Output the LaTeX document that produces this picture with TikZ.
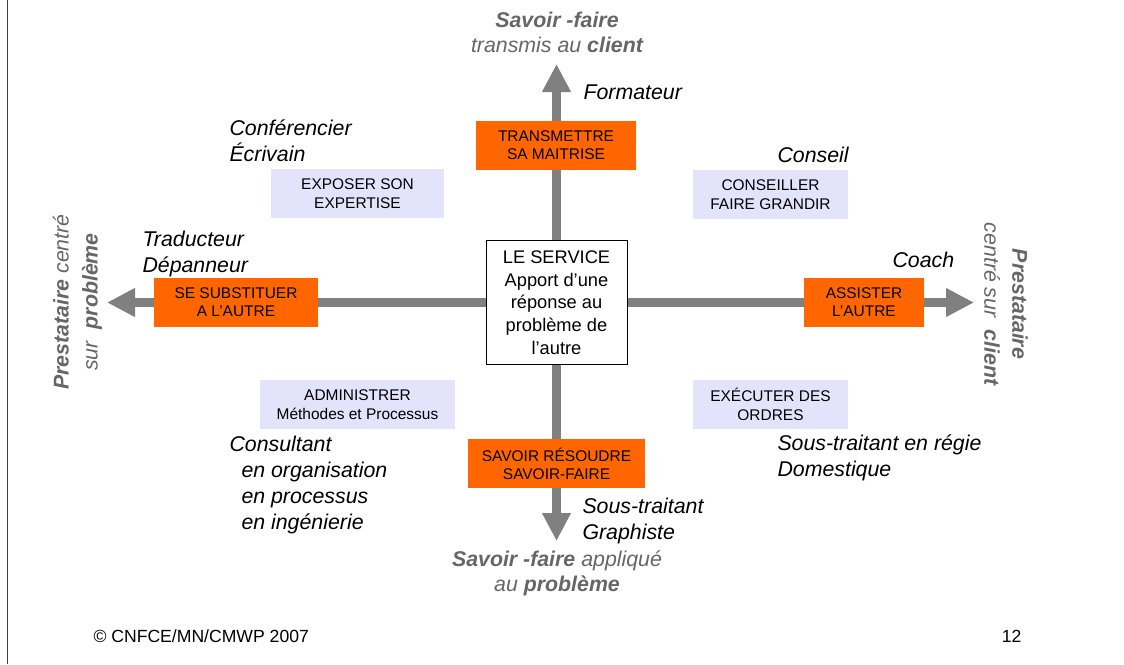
\documentclass[tikz,border=0pt]{standalone}
\usepackage{fontspec}
\setmainfont{Liberation Sans}
\usetikzlibrary{arrows.meta,backgrounds}

\definecolor{boxorange}{RGB}{255,102,0}
\definecolor{boxlilac}{RGB}{227,227,251}
\definecolor{axisgray}{RGB}{128,128,128}
\definecolor{polegray}{RGB}{102,102,102}
\definecolor{margingray}{RGB}{64,64,64}

\tikzset{every picture/.style={line width=0.75pt}}
\tikzset{
  axis/.style={draw=axisgray, line width=6.75pt, -{Triangle[length=21pt,width=20.25pt]}},
  actbox/.style={fill=boxorange, align=center, inner sep=0pt, minimum height=36.75pt, font=\fontsize{11.6}{13.5}\selectfont},
  rolebox/.style={fill=boxlilac, align=center, inner sep=0pt, minimum height=36.75pt, font=\fontsize{11.6}{14.5}\selectfont},
  job/.style={align=left, anchor=west, inner sep=0pt, font=\fontsize{16}{19.5}\selectfont\itshape},
  pole/.style={align=center, inner sep=0pt, text=polegray, font=\fontsize{16}{18.75}\selectfont\itshape},
}

\begin{document}
\begin{tikzpicture}[x=0.75pt,y=0.75pt,yscale=-1,xscale=1]
	\useasboundingbox (0,0) rectangle (1124,664);

	%Straight Lines [id:margin]
	\draw [color=margingray] (7,0) -- (7,664) ;

	%Shape: Rectangle [id:service]
	\node [draw, fill=white, align=center, inner sep=0pt, minimum width=105.75pt, minimum height=93pt, font=\fontsize{13.7}{17}\selectfont] (serv) at (556.5,302.5) {LE SERVICE\\Apport d’une\\réponse au\\problème de\\l’autre};

	% Axis ends
	\coordinate (tipN) at (556.5,64) ;
	\coordinate (tipS) at (556.5,541) ;
	\coordinate (tipW) at (107,302.5) ;
	\coordinate (tipE) at (974,302.5) ;

	%Shape: Rectangle [id:actions]
	\node [actbox, minimum width=120pt] (transm) at (556,145.5) {TRANSMETTRE\\SA MAITRISE};
	\node [actbox, minimum width=123pt] (subst) at (236,302.5) {SE SUBSTITUER\\A L’AUTRE};
	\node [actbox, minimum width=90pt] (assist) at (864,302.5) {ASSISTER\\L’AUTRE};
	\node [actbox, minimum width=132.75pt] (resoud) at (556.5,463.5) {SAVOIR RÉSOUDRE\\SAVOIR-FAIRE};

	%Shape: Rectangle [id:roles]
	\node [rolebox, minimum width=129.75pt] (expose) at (357.5,193.5) {EXPOSER SON\\EXPERTISE};
	\node [rolebox, minimum width=116.25pt] (conseil) at (770.5,194.5) {CONSEILLER\\FAIRE GRANDIR};
	\node [rolebox, minimum width=146.25pt] (admin) at (357.5,404.5) {ADMINISTRER\\Méthodes et Processus};
	\node [rolebox, minimum width=116.25pt] (exec) at (770.5,404.5) {EXÉCUTER DES\\ORDRES};

	%Straight Lines [id:axes]
	\begin{scope}[on background layer]
	\draw [axis] (serv.north) -- (tipN) ;
	\draw [axis] (serv.south) -- (tipS) ;
	\draw [axis] (serv.west) -- (tipW) ;
	\draw [axis] (serv.east) -- (tipE) ;
	\end{scope}

	% Text Node
	\node [job] (conf) at (229,141) {Conférencier\\Écrivain};
	% Text Node
	\node [job] (form) at (583,92) {Formateur};
	% Text Node
	\node [job] (cons) at (777,155) {Conseil};
	% Text Node
	\node [job] (trad) at (142,254) {Traducteur\\Dépanneur};
	% Text Node
	\node [job] (coach) at (892,260) {Coach};
	% Text Node
	\node [job] (consult) at (229,484.5) {Consultant\\\hspace*{9pt}en organisation\\\hspace*{9pt}en processus\\\hspace*{9pt}en ingénierie};
	% Text Node
	\node [job] (regie) at (777,458) {Sous-traitant en régie\\Domestique};
	% Text Node
	\node [job] (graph) at (582,521) {Sous-traitant\\Graphiste};

	% Text Node
	\node [pole] (poleN) at (557,32.5) {\textbf{Savoir -faire}\\transmis au \textbf{client}};
	% Text Node
	\node [pole] (poleS) at (557,573) {\textbf{Savoir -faire} appliqué\\au \textbf{problème}};
	% Text Node
	\node [pole, rotate=90, font=\fontsize{16}{21.75}\selectfont\itshape] (poleW) at (77.5,302) {\textbf{Prestataire} centré\\sur \ \textbf{problème}};
	% Text Node
	\node [pole, rotate=-90, font=\fontsize{16}{21}\selectfont\itshape] (poleE) at (1006,304) {\textbf{Prestataire}\\centré sur \ \textbf{client}};

	% Text Node
	\node [anchor=west, inner sep=0pt, font=\fontsize{13.2}{15}\selectfont] (copy) at (93,636) {© CNFCE/MN/CMWP 2007};
	% Text Node
	\node [anchor=east, inner sep=0pt, font=\fontsize{13.2}{15}\selectfont] (page) at (1022,636) {12};

\end{tikzpicture}
\end{document}
